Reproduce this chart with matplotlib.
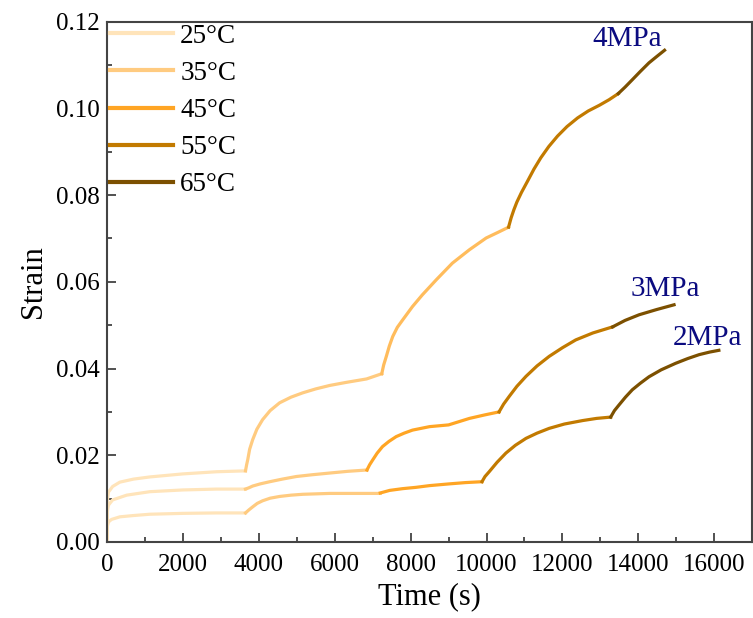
import numpy as np
import matplotlib
matplotlib.use("Agg")
import matplotlib.pyplot as plt

plt.rcParams['font.family'] = ['Liberation Serif', 'DejaVu Serif']

temps = ['25°C', '35°C', '45°C', '55°C', '65°C']
colors = ['#FFE4BA', '#FFCB80', '#FFA524', '#C27A00', '#7C5000']
color_4mpa_stage3 = '#FFBC5C'

# 2 MPa, one list per temperature stage
t_2mpa = [
    [0, 10, 40, 120, 340, 700, 1130, 2000, 2890, 3650],
    [3650, 3740, 3840, 3960, 4100, 4300, 4550, 4850, 5160, 5870, 6500, 7200],
    [7200, 7450, 7790, 8140, 8500, 9020, 9450, 9880],
    [9880, 9960, 10070, 10280, 10510, 10760, 11040, 11330, 11650, 12050, 12530, 12900, 13270],
    [13270, 13370, 13490, 13660, 13840, 14050, 14280, 14600, 14980, 15300, 15600, 15880, 16120],
]
s_2mpa = [
    [0.0, 0.0036, 0.0046, 0.0052, 0.0058, 0.0061, 0.0064, 0.0066, 0.0067, 0.0067],
    [0.0067, 0.0074, 0.0081, 0.0089, 0.0095, 0.0101, 0.0105, 0.0108, 0.0110, 0.0112, 0.0112, 0.0112],
    [0.0113, 0.0119, 0.0123, 0.0126, 0.0130, 0.0134, 0.0137, 0.0139],
    [0.0139, 0.0151, 0.0162, 0.0184, 0.0205, 0.0223, 0.0239, 0.0251, 0.0262, 0.0272, 0.0280, 0.0285, 0.0288],
    [0.0288, 0.0303, 0.0316, 0.0334, 0.0351, 0.0366, 0.0381, 0.0397, 0.0412, 0.0423, 0.0432, 0.0438, 0.0442],
]

# 3 MPa
t_3mpa = [
    [0, 10, 40, 150, 520, 1130, 2000, 2890, 3650],
    [3650, 3740, 3840, 4040, 4290, 4620, 4990, 5400, 5870, 6350, 6850],
    [6850, 6920, 7000, 7120, 7260, 7430, 7620, 7830, 8050, 8500, 9000, 9550, 9950, 10330],
    [10330, 10450, 10600, 10800, 11040, 11330, 11650, 12000, 12350, 12800, 13320],
    [13320, 13650, 14020, 14480, 14940],
]
s_3mpa = [
    [0.0, 0.0070, 0.0085, 0.0097, 0.0108, 0.0116, 0.0120, 0.0122, 0.0122],
    [0.0122, 0.0125, 0.0129, 0.0134, 0.0139, 0.0145, 0.0151, 0.0155, 0.0159, 0.0163, 0.0166],
    [0.0166, 0.0178, 0.0189, 0.0205, 0.0220, 0.0232, 0.0243, 0.0251, 0.0258, 0.0266, 0.0270, 0.0285, 0.0293, 0.0300],
    [0.0300, 0.0318, 0.0336, 0.0359, 0.0382, 0.0406, 0.0428, 0.0448, 0.0466, 0.0482, 0.0496],
    [0.0496, 0.0511, 0.0524, 0.0536, 0.0547],
]

# 4 MPa
t_4mpa = [
    [0, 10, 40, 150, 340, 700, 1130, 2000, 2890, 3650],
    [3650, 3680, 3710, 3760, 3840, 3950, 4100, 4300, 4550, 4850, 5160, 5500, 5870, 6300, 6840, 7240],
    [7240, 7290, 7360, 7440, 7530, 7650, 7790, 8050, 8310, 8680, 9100, 9550, 9990, 10300, 10580],
    [10580, 10650, 10720, 10800, 10920, 11080, 11250, 11430, 11640, 11870, 12120, 12400, 12680, 12970, 13230, 13470],
    [13470, 13650, 13840, 14050, 14280, 14490, 14690],
]
s_4mpa = [
    [0.0, 0.0095, 0.0115, 0.0128, 0.0138, 0.0145, 0.0150, 0.0157, 0.0162, 0.0164],
    [0.0164, 0.0178, 0.0190, 0.0214, 0.0236, 0.0260, 0.0282, 0.0303, 0.0321, 0.0334, 0.0344, 0.0353, 0.0361, 0.0368, 0.0376, 0.0388],
    [0.0388, 0.0408, 0.0428, 0.0452, 0.0474, 0.0495, 0.0512, 0.0543, 0.0570, 0.0605, 0.0643, 0.0674, 0.0701, 0.0714, 0.0726],
    [0.0726, 0.0748, 0.0766, 0.0784, 0.0806, 0.0832, 0.0860, 0.0886, 0.0912, 0.0936, 0.0958, 0.0978, 0.0994, 0.1007, 0.1020, 0.1034],
    [0.1034, 0.1049, 0.1066, 0.1085, 0.1105, 0.1120, 0.1134],
]

labels = ['2MPa', '3MPa', '4MPa']
label_pos = [(15830, 0.0471), (14720, 0.0584), (13700, 0.1161)]

fig = plt.figure(figsize=(7.53, 6.18), dpi=100)
ax = fig.add_axes([0.142, 0.123, 0.857, 0.842])

lw = 2.3
for ts, ss in [(t_2mpa, s_2mpa), (t_3mpa, s_3mpa), (t_4mpa, s_4mpa)]:
    for i in range(5):
        c = colors[i]
        if ts is t_4mpa and i == 2:
            c = color_4mpa_stage3
        ax.plot(ts[i], ss[i], color=c, lw=lw, solid_joinstyle='round')

# legend proxies
for c, lab in zip(colors, temps):
    ax.plot([], [], color=c, lw=3, label=lab)
ax.legend(loc='upper left', bbox_to_anchor=(0.004, 0.996), frameon=False,
          fontsize=19.5, handlelength=2.33, handletextpad=0.28,
          labelspacing=0.45, borderpad=0.0, borderaxespad=0.0)

for lab, (x, y) in zip(labels, label_pos):
    ax.text(x, y, lab, color='#0B0B80', fontsize=21, ha='center', va='center')

ax.set_xlim(0, 17000)
ax.set_ylim(0, 0.12)
ax.set_xticks(np.arange(0, 16001, 2000))
ax.set_xticks(np.arange(1000, 17000, 2000), minor=True)
ax.set_yticks(np.arange(0, 0.1201, 0.02))
ax.set_yticks(np.arange(0.01, 0.12, 0.02), minor=True)
ax.set_yticklabels(['%.2f' % v for v in np.arange(0, 0.1201, 0.02)])
ax.tick_params(which='both', direction='in', labelsize=18, width=1.2, colors='#333333',
               labelcolor='black')
ax.tick_params(which='major', length=6.5)
ax.tick_params(axis='x', which='major', pad=9)
ax.tick_params(axis='y', which='major', pad=5)
ax.tick_params(which='minor', length=3.6)
for sp in ax.spines.values():
    sp.set_color('#444444')
    sp.set_linewidth(1.5)

ax.set_xlabel('Time (s)', fontsize=22, labelpad=4)
ax.set_ylabel('Strain', fontsize=22, labelpad=6)

fig.savefig('out.png', dpi=100)
